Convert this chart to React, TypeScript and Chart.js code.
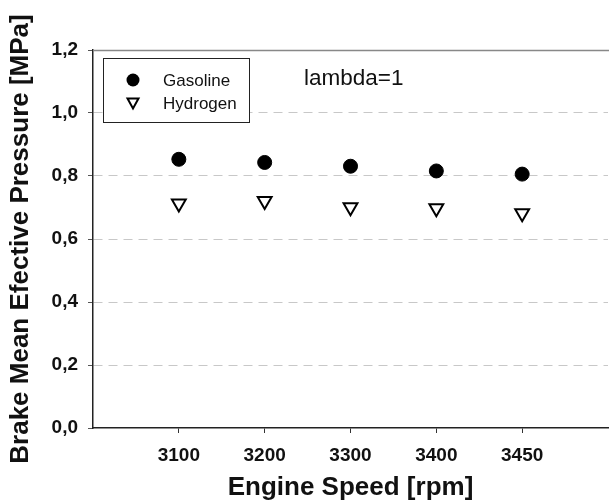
import React, { useEffect, useRef } from "react";
import { Chart, registerables } from "chart.js";

Chart.register(...registerables);

const categories = ["", "3100", "3200", "3300", "3400", "3450", ""];
const gasoline = [null, 0.853, 0.843, 0.831, 0.816, 0.806, null];
const hydrogen = [null, 0.713, 0.721, 0.701, 0.698, 0.682, null];
const yTicks = [0, 0.2, 0.4, 0.6, 0.8, 1.0, 1.2];

const FONT = "Arial, 'Liberation Sans', sans-serif";

const overlayPlugin = {
  id: "overlay",
  afterDraw(chart: any) {
    const ctx = chart.ctx;
    const ca = chart.chartArea;
    const ys = chart.scales.y;
    ctx.save();
    // top frame line at max value
    const yTop = Math.round(ys.getPixelForValue(yTicks[yTicks.length - 1])) + 0.5;
    ctx.strokeStyle = "#888";
    ctx.lineWidth = 1.5;
    ctx.beginPath();
    ctx.moveTo(ca.left, yTop);
    ctx.lineTo(609, yTop);
    ctx.stroke();
    // legend box
    ctx.strokeStyle = "#222";
    ctx.lineWidth = 1;
    ctx.fillStyle = "#fff";
    ctx.fillRect(103.5, 58.5, 146, 64);
    ctx.strokeRect(103.5, 58.5, 146, 64);
    const ds = chart.data.datasets;
    // gasoline symbol
    ctx.fillStyle = "#000";
    ctx.beginPath();
    ctx.arc(133, 80, 6.5, 0, Math.PI * 2);
    ctx.fill();
    // hydrogen symbol
    ctx.save();
    ctx.translate(133, 103);
    ctx.beginPath();
    ctx.moveTo(-5.5, -4.5);
    ctx.lineTo(5.5, -4.5);
    ctx.lineTo(0, 5.5);
    ctx.closePath();
    ctx.fillStyle = "#fff";
    ctx.fill();
    ctx.lineWidth = 2;
    ctx.strokeStyle = "#000";
    ctx.stroke();
    ctx.restore();
    ctx.fillStyle = "#111";
    ctx.font = `17px ${FONT}`;
    ctx.textBaseline = "alphabetic";
    ctx.textAlign = "left";
    ctx.fillText(ds[0].label, 163, 86);
    ctx.fillText(ds[1].label, 163, 109);
    // lambda text
    ctx.font = `22.5px ${FONT}`;
    ctx.fillText("lambda=1", 304, 85);
    ctx.restore();
  },
};

export default function App() {
  const ref = useRef<HTMLCanvasElement>(null);
  useEffect(() => {
    const chart = new Chart(ref.current!, {
      type: "line",
      data: {
        labels: categories,
        datasets: [
          {
            label: "Gasoline",
            data: gasoline,
            showLine: false,
            pointStyle: "circle",
            pointRadius: 7,
            pointBackgroundColor: "#000",
            pointBorderColor: "#000",
            pointBorderWidth: 1,
          },
          {
            label: "Hydrogen",
            data: hydrogen,
            showLine: false,
            pointStyle: "triangle",
            pointRotation: 180,
            pointRadius: 8,
            pointBackgroundColor: "#fff",
            pointBorderColor: "#000",
            pointBorderWidth: 2,
          },
        ],
      },
      options: {
        responsive: false,
        animation: false,
        layout: { autoPadding: false, padding: { top: 50, right: 1, left: 0, bottom: 0 } },
        plugins: { legend: { display: false }, tooltip: { enabled: false } },
        scales: {
          x: {
            offset: false,
            afterFit: (s: any) => {
              s.height = 73;
              s.paddingLeft = 0;
              s.paddingRight = 0;
            },
            grid: {
              drawOnChartArea: false,
              tickLength: 5,
              tickColor: (c: any) =>
                c.index > 0 && c.index < categories.length - 1 ? "#333" : "transparent",
            },
            border: { color: "#222", width: 1.5 },
            ticks: {
              color: "#111",
              padding: 11,
              maxRotation: 0,
              autoSkip: false,
              font: { family: FONT, size: 19, weight: "bold" },
            },
            title: {
              display: true,
              text: "Engine Speed [rpm]",
              color: "#111",
              font: { family: FONT, size: 26, weight: "bold" },
              padding: { top: 0, bottom: -2 },
            },
          },
          y: {
            min: 0,
            max: 1.2,
            afterFit: (s: any) => {
              s.width = 93;
              s.paddingTop = 0;
              s.paddingBottom = 0;
            },
            afterBuildTicks: (s: any) => {
              s.ticks = yTicks.map((v) => ({ value: v }));
            },
            grid: {
              color: (c: any) =>
                c.tick && c.tick.value > 0.01 && c.tick.value < 1.19 ? "#c8c8c8" : "transparent",
              tickLength: 5,
              tickColor: "#555",
            },
            border: { color: "#222", width: 1.5, dash: [9, 6] },
            ticks: {
              color: "#111",
              padding: 10,
              font: { family: FONT, size: 19, weight: "bold" },
              callback: (v: any) => Number(v).toFixed(1).replace(".", ","),
            },
            title: {
              display: true,
              text: "Brake Mean Efective Pressure [MPa]",
              color: "#111",
              font: { family: FONT, size: 26, weight: "bold" },
              padding: { top: 5, bottom: 0 },
            },
          },
        },
      },
      plugins: [overlayPlugin],
    });
    return () => chart.destroy();
  }, []);
  return (
    <div style={{ position: "fixed", left: 0, top: 0, width: 609, height: 501, background: "#fff" }}>
      <canvas ref={ref} width={609} height={501} />
    </div>
  );
}
